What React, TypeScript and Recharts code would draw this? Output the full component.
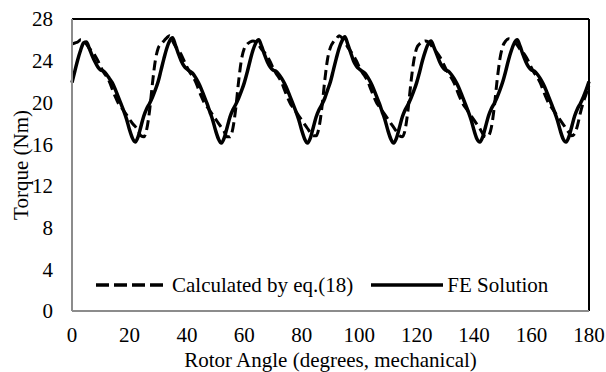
import React from "react";
import { LineChart, Line, XAxis, YAxis, Legend, ReferenceLine } from "recharts";

// rotor angle, degrees (mechanical)
const angles = [
  0, 1, 2, 3, 4, 5, 6, 7, 8, 9, 10, 11, 12, 13, 14, 15, 16, 17, 18, 19,
  20, 21, 22, 23, 24, 25, 26, 27, 28, 29, 30, 31, 32, 33, 34, 35, 36, 37, 38, 39,
  40, 41, 42, 43, 44, 45, 46, 47, 48, 49, 50, 51, 52, 53, 54, 55, 56, 57, 58, 59,
  60, 61, 62, 63, 64, 65, 66, 67, 68, 69, 70, 71, 72, 73, 74, 75, 76, 77, 78, 79,
  80, 81, 82, 83, 84, 85, 86, 87, 88, 89, 90, 91, 92, 93, 94, 95, 96, 97, 98, 99,
  100, 101, 102, 103, 104, 105, 106, 107, 108, 109, 110, 111, 112, 113, 114, 115, 116, 117, 118, 119,
  120, 121, 122, 123, 124, 125, 126, 127, 128, 129, 130, 131, 132, 133, 134, 135, 136, 137, 138, 139,
  140, 141, 142, 143, 144, 145, 146, 147, 148, 149, 150, 151, 152, 153, 154, 155, 156, 157, 158, 159,
  160, 161, 162, 163, 164, 165, 166, 167, 168, 169, 170, 171, 172, 173, 174, 175, 176, 177, 178, 179,
  180,
];

// FE Solution (Nm)
const feSolution = [
  21.9, 23.0, 24.1, 25.0, 25.7, 25.8, 25.2, 24.5, 23.9, 23.4, 23.1, 23.0, 22.7, 22.3, 21.9, 21.3, 20.6, 19.9, 19.2, 18.4,
  17.4, 16.6, 16.2, 16.7, 17.7, 18.7, 19.4, 19.9, 20.5, 21.2, 22.0, 23.1, 24.2, 25.2, 25.9, 26.2, 25.5, 24.7, 24.0, 23.5,
  23.2, 23.0, 22.8, 22.4, 21.9, 21.3, 20.6, 19.9, 19.1, 18.3, 17.3, 16.5, 16.1, 16.6, 17.6, 18.6, 19.3, 19.8, 20.4, 21.1,
  21.9, 22.9, 24.0, 25.0, 25.7, 26.0, 25.4, 24.6, 23.9, 23.4, 23.1, 23.0, 22.7, 22.3, 21.8, 21.2, 20.5, 19.8, 19.1, 18.3,
  17.3, 16.5, 16.1, 16.6, 17.6, 18.6, 19.3, 19.8, 20.4, 21.2, 22.0, 23.1, 24.2, 25.2, 25.9, 26.3, 25.6, 24.8, 24.0, 23.5,
  23.2, 23.0, 22.8, 22.4, 21.9, 21.3, 20.6, 19.9, 19.1, 18.3, 17.3, 16.5, 16.1, 16.6, 17.6, 18.6, 19.3, 19.8, 20.4, 21.1,
  21.9, 22.9, 24.0, 24.9, 25.6, 25.9, 25.3, 24.6, 23.9, 23.4, 23.1, 23.0, 22.7, 22.3, 21.8, 21.2, 20.5, 19.8, 19.1, 18.3,
  17.3, 16.5, 16.2, 16.7, 17.7, 18.7, 19.4, 19.9, 20.5, 21.2, 22.0, 23.0, 24.1, 25.0, 25.7, 26.0, 25.4, 24.6, 23.9, 23.4,
  23.1, 23.0, 22.7, 22.3, 21.8, 21.2, 20.5, 19.8, 19.1, 18.3, 17.3, 16.5, 16.2, 16.7, 17.7, 18.7, 19.4, 19.9, 20.5, 21.2,
  22.0,
];

// Calculated by eq.(18) (Nm)
const calculated = [
  25.6, 25.7, 25.8, 26.0, 25.9, 25.6, 25.2, 24.9, 24.5, 24.0, 23.4, 22.9, 22.5, 22.0, 21.3, 20.6, 20.0, 19.6, 19.2, 18.8,
  18.4, 18.0, 17.7, 17.3, 16.8, 16.7, 17.4, 19.2, 21.8, 24.0, 25.2, 25.6, 25.9, 26.2, 26.4, 25.9, 25.4, 25.0, 24.6, 24.0,
  23.4, 22.9, 22.5, 22.0, 21.3, 20.6, 20.0, 19.6, 19.2, 18.8, 18.4, 18.0, 17.6, 17.2, 16.7, 16.7, 17.5, 19.4, 22.0, 24.1,
  25.2, 25.6, 25.8, 25.9, 25.8, 25.5, 25.1, 24.8, 24.4, 23.9, 23.3, 22.8, 22.4, 21.9, 21.2, 20.5, 19.9, 19.5, 19.1, 18.7,
  18.3, 17.9, 17.5, 17.1, 16.8, 16.8, 17.6, 19.5, 22.1, 24.2, 25.3, 25.8, 26.1, 26.4, 26.2, 25.8, 25.3, 24.9, 24.5, 24.0,
  23.4, 22.9, 22.5, 22.0, 21.3, 20.6, 20.0, 19.6, 19.2, 18.8, 18.4, 18.0, 17.6, 17.2, 16.8, 16.7, 17.4, 19.3, 21.9, 24.0,
  25.2, 25.6, 25.8, 25.9, 25.8, 25.5, 25.1, 24.8, 24.4, 23.9, 23.3, 22.8, 22.4, 21.9, 21.2, 20.5, 19.9, 19.5, 19.1, 18.7,
  18.3, 17.9, 17.5, 17.0, 16.7, 16.8, 17.6, 19.5, 22.1, 24.2, 25.4, 25.9, 26.1, 26.0, 25.8, 25.5, 25.1, 24.8, 24.4, 23.9,
  23.3, 22.8, 22.4, 21.9, 21.2, 20.5, 19.9, 19.5, 19.1, 18.7, 18.3, 17.9, 17.5, 17.1, 16.8, 17.0, 17.8, 19.0, 20.0, 20.8,
  21.6,
];

const xTicks = [0, 20, 40, 60, 80, 100, 120, 140, 160, 180];
const yTicks = [0, 4, 8, 12, 16, 20, 24, 28];

const data = angles.map((a, i) => ({
  angle: a,
  calc: calculated[i],
  fe: feSolution[i],
}));

const font = '"Liberation Serif", "Times New Roman", serif';
const fontSize = 21;
const axisGray = "#8c8c8c";

function LegendContent(props: any) {
  const items = props.payload || [];
  return (
    <div style={{ display: "flex", alignItems: "center", fontFamily: font, fontSize, color: "#000", lineHeight: "24px" }}>
      {items.map((entry: any, i: number) => (
        <div key={i} style={{ display: "flex", alignItems: "center", marginRight: 18 }}>
          <svg width={72} height={10} style={{ marginRight: 4 }}>
            <line
              x1={0}
              y1={5}
              x2={72}
              y2={5}
              stroke="#000"
              strokeWidth={3.5}
              strokeDasharray={entry.dataKey === "calc" ? "13 5" : undefined}
            />
          </svg>
          <span>{entry.value}</span>
        </div>
      ))}
    </div>
  );
}

export default function App() {
  return (
    <div style={{ position: "absolute", left: 0, top: 0, background: "#fff" }}>
      <LineChart
        width={606}
        height={372}
        data={data}
        margin={{ top: 19, right: 17, left: 0, bottom: 0 }}
      >
        <XAxis
          dataKey="angle"
          type="number"
          domain={[0, 180]}
          ticks={xTicks}
          height={61}
          stroke={axisGray}
          strokeWidth={2}
          tickLine={false}
          tickSize={0}
          tickMargin={16}
          tick={{ fill: "#000", fontFamily: font, fontSize }}
          label={{
            value: "Rotor Angle (degrees, mechanical)",
            position: "center",
            dy: 18,
            fill: "#000",
            fontFamily: font,
            fontSize,
          }}
        />
        <YAxis
          domain={[0, 28]}
          ticks={yTicks}
          width={72}
          stroke={axisGray}
          strokeWidth={2}
          tickLine={false}
          tickSize={0}
          tickMargin={19}
          tick={{ fill: "#000", fontFamily: font, fontSize }}
          label={{
            value: "Torque (Nm)",
            angle: -90,
            position: "center",
            dx: -15,
            fill: "#000",
            fontFamily: font,
            fontSize,
          }}
        />
        <ReferenceLine y={28} stroke="#000" strokeWidth={2} />
        <ReferenceLine x={180} stroke="#000" strokeWidth={2} />
        <Legend
          content={<LegendContent />}
          layout="horizontal"
          verticalAlign="middle"
          align="center"
          wrapperStyle={{ position: "absolute", left: 96, top: 273, width: "auto" }}
        />
        <Line
          name="Calculated by eq.(18)"
          dataKey="calc"
          type="monotone"
          stroke="#000"
          strokeWidth={3}
          strokeDasharray="10 5"
          dot={false}
          isAnimationActive={false}
        />
        <Line
          name="FE Solution"
          dataKey="fe"
          type="monotone"
          stroke="#000"
          strokeWidth={3.5}
          dot={false}
          isAnimationActive={false}
        />
      </LineChart>
    </div>
  );
}
